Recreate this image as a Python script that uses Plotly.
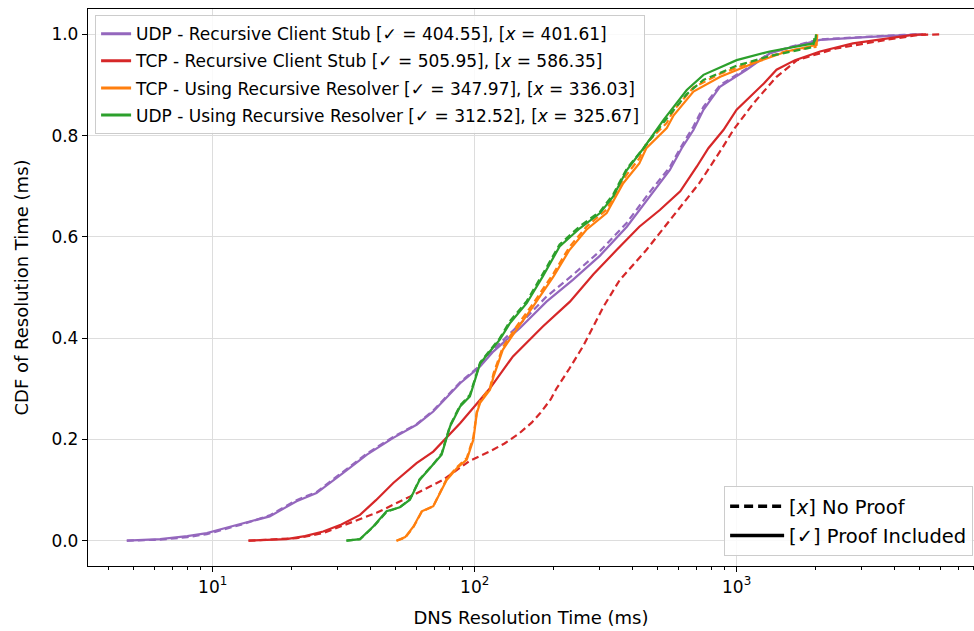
import plotly.graph_objects as go

# ---------------- data ----------------
udp_stub_x = [4.7, 6.3, 8.0, 9.5, 11.0, 13.1, 16.5, 20.9, 24.9, 31.5, 38.8, 48.9, 60.0, 69.5, 88, 104.9, 118, 149, 188, 237, 301, 381, 465, 556, 617, 684, 747, 866, 1091, 1335, 1648, 2081, 3232, 4347, 5150]
udp_stub_y = [0, 0.003, 0.009, 0.015, 0.024, 0.034, 0.048, 0.078, 0.094, 0.134, 0.17, 0.203, 0.229, 0.255, 0.311, 0.344, 0.374, 0.42, 0.472, 0.515, 0.563, 0.62, 0.68, 0.732, 0.775, 0.811, 0.851, 0.897, 0.93, 0.962, 0.976, 0.989, 0.995, 0.999, 1.0]
udp_stub_np_x = [4.7, 6.3, 8.0, 9.5, 11.0, 13.1, 16.5, 20.9, 24.9, 31.5, 38.8, 48.9, 60.0, 69.5, 88, 104.9, 118, 149, 188, 237, 301, 381, 465, 556, 617, 684, 747, 866, 1091, 1335, 1648, 2081, 3232, 4347, 5000]
udp_stub_np_y = [0, 0.002, 0.007, 0.013, 0.022, 0.033, 0.05, 0.08, 0.096, 0.136, 0.172, 0.205, 0.23, 0.257, 0.313, 0.346, 0.378, 0.428, 0.482, 0.525, 0.572, 0.628, 0.688, 0.738, 0.78, 0.818, 0.857, 0.9, 0.932, 0.963, 0.977, 0.99, 0.996, 0.999, 1.0]

tcp_stub_x = [13.7, 16.5, 19.1, 22.5, 26.4, 31.0, 36.5, 42.0, 48.9, 60, 69.5, 88, 114.4, 140, 182, 231, 284, 348, 425, 509, 609, 705, 780, 890, 1000, 1270, 1420, 1670, 2081, 2780, 3720, 4700, 5280]
tcp_stub_y = [0, 0.001, 0.003, 0.009, 0.018, 0.032, 0.051, 0.08, 0.114, 0.153, 0.176, 0.232, 0.301, 0.364, 0.423, 0.472, 0.526, 0.574, 0.62, 0.653, 0.69, 0.739, 0.775, 0.811, 0.851, 0.903, 0.93, 0.949, 0.966, 0.982, 0.992, 0.999, 1.0]
tcp_stub_np_x = [13.7, 17, 20.9, 26.4, 33.4, 42.2, 56.6, 75.7, 95.9, 114, 130, 148, 165, 178, 195, 205, 230, 260, 285, 310, 358, 452, 570, 720, 880, 971, 1160, 1420, 1700, 2400, 3720, 5010, 6100]
tcp_stub_np_y = [0, 0.002, 0.005, 0.015, 0.035, 0.055, 0.087, 0.12, 0.158, 0.176, 0.192, 0.212, 0.233, 0.252, 0.279, 0.3, 0.34, 0.385, 0.425, 0.462, 0.515, 0.574, 0.64, 0.706, 0.775, 0.811, 0.864, 0.916, 0.949, 0.972, 0.989, 0.999, 1.0]

tcp_res_x = [50.3, 54.3, 58.4, 62.8, 69.5, 73.8, 78.2, 85.5, 93.3, 98.9, 101.9, 104.9, 114.4, 118, 128, 144, 167, 200, 230, 267, 319, 369, 425, 452, 541, 575, 684, 866, 1160, 1550, 2020, 2030]
tcp_res_y = [0, 0.007, 0.028, 0.058, 0.068, 0.094, 0.12, 0.143, 0.16, 0.2, 0.252, 0.272, 0.298, 0.324, 0.377, 0.416, 0.462, 0.522, 0.574, 0.614, 0.647, 0.706, 0.745, 0.775, 0.815, 0.84, 0.887, 0.916, 0.943, 0.966, 0.979, 1.0]
tcp_res_np_x = [50.3, 54.3, 58.4, 62.8, 69.5, 73.8, 78.2, 85.5, 93.3, 98.9, 101.9, 104.9, 114.4, 118, 128, 144, 167, 200, 230, 267, 319, 369, 425, 452, 541, 575, 684, 866, 1160, 1550, 2000, 2010]
tcp_res_np_y = [0, 0.006, 0.027, 0.057, 0.068, 0.095, 0.122, 0.145, 0.163, 0.205, 0.255, 0.276, 0.302, 0.33, 0.382, 0.422, 0.468, 0.528, 0.58, 0.62, 0.654, 0.714, 0.755, 0.785, 0.825, 0.85, 0.895, 0.922, 0.946, 0.967, 0.975, 1.0]

udp_res_x = [32.4, 36.5, 41, 46.1, 51.8, 56.6, 61.6, 69.5, 74.8, 80.6, 88, 95.9, 104.9, 114.4, 124.7, 136.5, 158, 182, 211, 252, 301, 338, 381, 441, 526, 645, 747, 1000, 1335, 1960, 2000, 2010]
udp_res_y = [0, 0.003, 0.028, 0.058, 0.066, 0.081, 0.12, 0.15, 0.17, 0.226, 0.265, 0.285, 0.35, 0.374, 0.397, 0.43, 0.469, 0.522, 0.581, 0.617, 0.647, 0.68, 0.732, 0.775, 0.831, 0.89, 0.92, 0.949, 0.966, 0.982, 0.99, 1.0]
udp_res_np_x = [32.4, 36.5, 41, 46.1, 51.8, 56.6, 61.6, 69.5, 74.8, 80.6, 88, 95.9, 104.9, 114.4, 124.7, 136.5, 158, 182, 211, 252, 301, 338, 381, 441, 526, 645, 747, 1000, 1335, 1960, 1990]
udp_res_np_y = [0, 0.003, 0.027, 0.057, 0.066, 0.082, 0.121, 0.151, 0.172, 0.228, 0.267, 0.288, 0.352, 0.377, 0.4, 0.434, 0.473, 0.527, 0.585, 0.621, 0.65, 0.684, 0.735, 0.775, 0.826, 0.882, 0.91, 0.938, 0.957, 0.975, 1.0]

series_names = [
    "UDP - Recursive Client Stub [✓ = 404.55], [<i>x</i> = 401.61]",
    "TCP - Recursive Client Stub [✓ = 505.95], [<i>x</i> = 586.35]",
    "TCP - Using Recursive Resolver [✓ = 347.97], [<i>x</i> = 336.03]",
    "UDP - Using Recursive Resolver [✓ = 312.52], [<i>x</i> = 325.67]",
]
series_colors = ["#9467bd", "#d62728", "#ff7f0e", "#2ca02c"]
proof_x = [udp_stub_x, tcp_stub_x, tcp_res_x, udp_res_x]
proof_y = [udp_stub_y, tcp_stub_y, tcp_res_y, udp_res_y]
noproof_x = [udp_stub_np_x, tcp_stub_np_x, tcp_res_np_x, udp_res_np_x]
noproof_y = [udp_stub_np_y, tcp_stub_np_y, tcp_res_np_y, udp_res_np_y]

style_names = ["[<i>x</i>] No Proof", "[✓] Proof Included"]

x_major = [10, 100, 1000]
x_major_text = ["10<sup>1</sup>", "10<sup>2</sup>", "10<sup>3</sup>"]
x_minor = [m * d for d in [1, 10, 100, 1000] for m in range(2, 10) if 3.4 <= m * d <= 8000]
y_ticks = [0.0, 0.2, 0.4, 0.6, 0.8, 1.0]

FONT = "DejaVu Sans"
DASH = "7px,4px"

fig = go.Figure()

# curves
for i in range(4):
    fig.add_trace(go.Scatter(x=noproof_x[i], y=noproof_y[i], mode="lines",
                             line=dict(color=series_colors[i], width=2.2, dash=DASH),
                             showlegend=False, hoverinfo="skip"))
    fig.add_trace(go.Scatter(x=proof_x[i], y=proof_y[i], mode="lines",
                             line=dict(color=series_colors[i], width=2.2),
                             showlegend=False, hoverinfo="skip"))

# legend 1 entries
for i in range(4):
    fig.add_trace(go.Scatter(x=[None], y=[None], mode="lines", name=series_names[i],
                             line=dict(color=series_colors[i], width=3),
                             legend="legend", legendgroup=f"g{i}"))

# legend 2 entries
fig.add_trace(go.Scatter(x=[None], y=[None], mode="lines", name=style_names[0],
                         line=dict(color="black", width=3.5, dash="9px,5px"),
                         legend="legend2", legendgroup="s0"))
fig.add_trace(go.Scatter(x=[None], y=[None], mode="lines", name=style_names[1],
                         line=dict(color="black", width=3.5),
                         legend="legend2", legendgroup="s1"))

fig.update_layout(
    width=974, height=631,
    margin=dict(l=88, r=0, t=9, b=65),
    paper_bgcolor="white", plot_bgcolor="white",
    font=dict(family=FONT, size=17, color="black"),
    xaxis=dict(
        type="log", range=[0.524, 3.906],
        tickvals=x_major, ticktext=x_major_text,
        ticks="outside", ticklen=5, tickwidth=1, tickcolor="black",
        showline=True, linecolor="black", linewidth=1.3, mirror=True,
        showgrid=True, gridcolor="#dddddd", gridwidth=1,
        zeroline=False,
        minor=dict(tickvals=x_minor, ticks="outside", ticklen=3, tickwidth=1,
                   tickcolor="black", showgrid=False),
        title=dict(text="DNS Resolution Time (ms)", font=dict(size=18), standoff=15),
        tickfont=dict(size=17),
    ),
    yaxis=dict(
        range=[-0.05, 1.05],
        tickvals=y_ticks, tickformat=".1f",
        ticks="outside", ticklen=5, tickwidth=1, tickcolor="black",
        showline=True, linecolor="black", linewidth=1.3,
        showgrid=True, gridcolor="#dddddd", gridwidth=1,
        zeroline=False,
        title=dict(text="CDF of Resolution Time (ms)", font=dict(size=18), standoff=18),
        tickfont=dict(size=17),
    ),
    legend=dict(
        x=0.008, y=0.989, xanchor="left", yanchor="top",
        bgcolor="rgba(255,255,255,0.85)", bordercolor="#cccccc", borderwidth=1,
        font=dict(family=FONT, size=17), tracegroupgap=2,
    ),
    legend2=dict(
        x=0.999, y=0.018, xanchor="right", yanchor="bottom",
        bgcolor="rgba(255,255,255,0.85)", bordercolor="#cccccc", borderwidth=1,
        font=dict(family=FONT, size=19.5), tracegroupgap=1, itemwidth=54,
    ),
)

fig.write_html("out.html")
